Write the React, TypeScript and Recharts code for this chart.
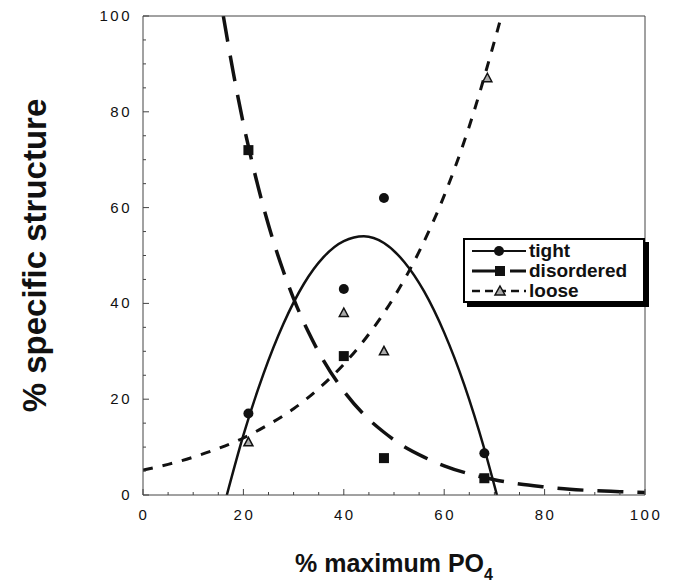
import { ComposedChart, Line, Scatter, XAxis, YAxis, Legend } from 'recharts';

// measured points (x = % maximum PO4)
const pointX = [21, 40, 48, 68];
const tightY = [17, 43, 62, 8.7];
const disorderedY = [72, 29, 7.7, 3.5];
const looseX = [21, 40, 48, 68.6];
const looseY = [11, 38, 30, 87];

// fitted curves
const tightCurveX = [16.7, 20, 24, 28, 32, 36, 40, 44, 48, 52, 56, 60, 64, 68, 70.5];
const tightCurveY = [0, 12.5, 25.3, 35.8, 44, 49.7, 53, 54, 52.6, 48.7, 42.5, 33.9, 23, 9.6, 0];
const disorderedCurveX = [16, 18, 20, 22, 24, 26, 28, 30, 33, 36, 40, 44, 48, 52, 56, 60, 65, 70, 75, 80, 85, 90, 95, 100];
const disorderedCurveY = [100, 88.1, 77.5, 68.3, 60.1, 52.9, 46.6, 41, 33.9, 28, 21.7, 16.8, 13.1, 10.1, 7.9, 6.1, 4.4, 3.2, 2.3, 1.7, 1.2, 0.9, 0.7, 0.5];
const looseCurveX = [0, 5, 10, 15, 20, 25, 30, 35, 40, 45, 50, 55, 60, 65, 70, 71.4];
const looseCurveY = [5.2, 6.4, 7.9, 9.7, 11.9, 14.7, 18, 22.2, 27.3, 33.6, 41.3, 50.8, 62.5, 77, 94.7, 100];

const axisTicks = [0, 5, 10, 15, 20, 25, 30, 35, 40, 45, 50, 55, 60, 65, 70, 75, 80, 85, 90, 95, 100];

const zip = (xs: number[], ys: number[]) => xs.map((x, i) => ({ x, y: ys[i] }));

const tightPts = zip(pointX, tightY);
const disorderedPts = zip(pointX, disorderedY);
const loosePts = zip(looseX, looseY);
const tightCurve = zip(tightCurveX, tightCurveY);
const disorderedCurve = zip(disorderedCurveX, disorderedCurveY);
const looseCurve = zip(looseCurveX, looseCurveY);

const FONT = '"Liberation Sans", Arial, Helvetica, sans-serif';
const INK = '#111';

const tickLen = (v: number) => (v % 20 === 0 ? 6 : 3);

const BottomTick = ({ x, y, payload }: any) => {
  const v = payload.value;
  return (
    <g>
      <line x1={x} x2={x} y1={y} y2={y - tickLen(v)} stroke="#444" strokeWidth={1} />
      {v % 20 === 0 && (
        <text x={x + 1} y={y + 25} textAnchor="middle" fontFamily={FONT} fontSize={15} fill={INK} letterSpacing={2.5}>
          {v}
        </text>
      )}
    </g>
  );
};

const LeftTick = ({ x, y, payload }: any) => {
  const v = payload.value;
  return (
    <g>
      <line x1={x} x2={x + tickLen(v)} y1={y} y2={y} stroke="#444" strokeWidth={1} />
      {v % 20 === 0 && (
        <text x={x - 11} y={y + 5} textAnchor="end" fontFamily={FONT} fontSize={15} fill={INK} letterSpacing={2.5}>
          {v}
        </text>
      )}
    </g>
  );
};

const TopTick = ({ x, y, payload }: any) => (
  <line x1={x} x2={x} y1={y} y2={y + tickLen(payload.value)} stroke="#444" strokeWidth={1} />
);

const RightTick = ({ x, y, payload }: any) => (
  <line x1={x} x2={x - tickLen(payload.value)} y1={y} y2={y} stroke="#444" strokeWidth={1} />
);

const Circle = ({ cx, cy }: any) => <circle cx={cx} cy={cy} r={5} fill={INK} />;
const Square = ({ cx, cy }: any) => <rect x={cx - 5} y={cy - 5} width={10} height={10} fill={INK} />;
const Tri = ({ cx, cy }: any) => (
  <path d={`M${cx},${cy - 5}L${cx + 4.5},${cy + 3.5}L${cx - 4.5},${cy + 3.5}Z`} fill="#aaa" stroke={INK} strokeWidth={1.5} />
);

const legendRows = [
  { name: 'tight', dash: undefined, width: 2, marker: 'circle' },
  { name: 'disordered', dash: '30 8', width: 3, marker: 'square' },
  { name: 'loose', dash: '8 5', width: 2.5, marker: 'triangle' },
];

const LegendBox = () => (
  <div
    style={{
      border: '2px solid #000',
      boxShadow: '4px 4px 0 #000',
      background: '#fff',
      padding: '1px 6px 0 6px',
      fontFamily: FONT,
      fontWeight: 'bold',
      fontSize: 19,
      lineHeight: '20px',
      color: INK,
      boxSizing: 'border-box',
      height: 65,
    }}
  >
    {legendRows.map((r) => (
      <div key={r.name} style={{ display: 'flex', alignItems: 'center', height: 20 }}>
        <svg width={56} height={14} style={{ marginRight: 2, flex: 'none' }}>
          <line x1={1} x2={55} y1={7} y2={7} stroke={INK} strokeWidth={r.width} strokeDasharray={r.dash} />
          {r.marker === 'circle' && <circle cx={28} cy={7} r={5} fill={INK} />}
          {r.marker === 'square' && <rect x={24} y={2} width={10} height={10} fill={INK} />}
          {r.marker === 'triangle' && <path d="M29,2L34,11L24,11Z" fill="#aaa" stroke={INK} strokeWidth={1.5} />}
        </svg>
        <span>{r.name}</span>
      </div>
    ))}
  </div>
);

const YTitle = ({ viewBox }: any) => (
  <text
    x={34}
    y={viewBox.y + viewBox.height / 2}
    transform={`rotate(-90, 34, ${viewBox.y + viewBox.height / 2})`}
    textAnchor="middle"
    dominantBaseline="central"
    fontFamily={FONT}
    fontWeight="bold"
    fontSize={33}
    fill={INK}
  >
    % specific structure
  </text>
);

const XTitle = ({ viewBox }: any) => (
  <text x={viewBox.x + viewBox.width / 2} y={572} textAnchor="middle" fontFamily={FONT} fontWeight="bold" fontSize={25} fill={INK}>
    % maximum PO
    <tspan fontSize={16} dy={8}>4</tspan>
  </text>
);

export default function App() {
  return (
    <div style={{ position: 'absolute', left: 0, top: 0, width: 674, height: 587, background: '#fff' }}>
      <ComposedChart width={674} height={587} margin={{ top: 15, right: 28, bottom: 0, left: 0 }}>
        <XAxis
          xAxisId="b"
          type="number"
          dataKey="x"
          domain={[0, 100]}
          ticks={axisTicks}
          interval={0}
          allowDataOverflow
          height={92}
          tickSize={0}
          tickMargin={0}
          tickLine={false}
          tick={<BottomTick />}
          axisLine={{ stroke: '#444', strokeWidth: 1 }}
          label={<XTitle />}
        />
        <XAxis
          xAxisId="t"
          orientation="top"
          type="number"
          dataKey="x"
          domain={[0, 100]}
          ticks={axisTicks}
          interval={0}
          height={1}
          tickSize={0}
          tickMargin={0}
          tickLine={false}
          tick={<TopTick />}
          axisLine={{ stroke: '#444', strokeWidth: 1 }}
        />
        <YAxis
          yAxisId="l"
          type="number"
          domain={[0, 100]}
          ticks={axisTicks}
          interval={0}
          allowDataOverflow
          width={143}
          tickSize={0}
          tickMargin={0}
          tickLine={false}
          tick={<LeftTick />}
          axisLine={{ stroke: '#444', strokeWidth: 1 }}
          label={<YTitle />}
        />
        <YAxis
          yAxisId="r"
          orientation="right"
          type="number"
          domain={[0, 100]}
          ticks={axisTicks}
          interval={0}
          width={1}
          tickSize={0}
          tickMargin={0}
          tickLine={false}
          tick={<RightTick />}
          axisLine={{ stroke: '#444', strokeWidth: 1 }}
        />

        <Line xAxisId="b" yAxisId="l" data={tightCurve} dataKey="y" type="monotone" stroke={INK} strokeWidth={2.5} dot={false} activeDot={false} isAnimationActive={false} />
        <Line xAxisId="b" yAxisId="l" data={disorderedCurve} dataKey="y" type="monotone" stroke={INK} strokeWidth={3.5} strokeDasharray="26 14" dot={false} activeDot={false} isAnimationActive={false} />
        <Line xAxisId="b" yAxisId="l" data={looseCurve} dataKey="y" type="monotone" stroke={INK} strokeWidth={3} strokeDasharray="10 10" dot={false} activeDot={false} isAnimationActive={false} />

        <Scatter xAxisId="b" yAxisId="l" data={tightPts} dataKey="y" shape={<Circle />} isAnimationActive={false} />
        <Scatter xAxisId="b" yAxisId="l" data={disorderedPts} dataKey="y" shape={<Square />} isAnimationActive={false} />
        <Scatter xAxisId="b" yAxisId="l" data={loosePts} dataKey="y" shape={<Tri />} isAnimationActive={false} />

        <Legend
          layout="horizontal"
          verticalAlign="middle"
          align="center"
          content={<LegendBox />}
          wrapperStyle={{ left: 463, top: 238, width: 182, bottom: 'auto' }}
        />
      </ComposedChart>
    </div>
  );
}
